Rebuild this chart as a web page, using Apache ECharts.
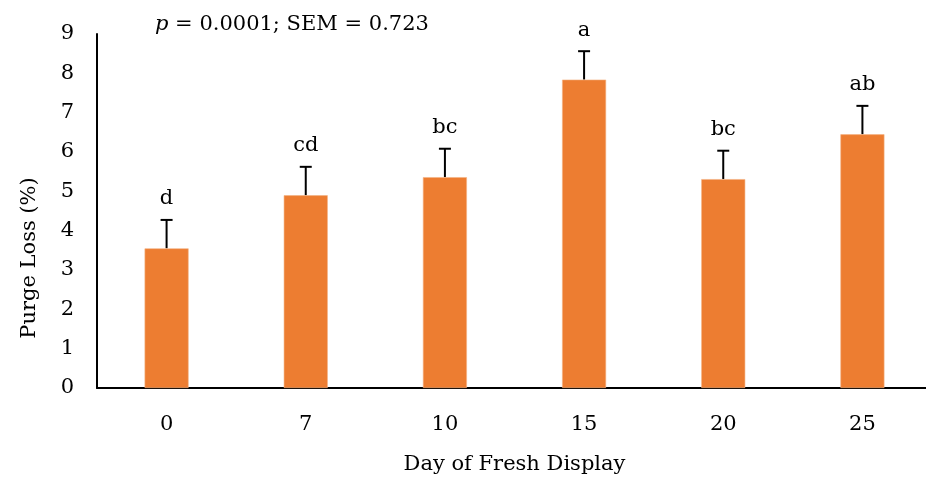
<!DOCTYPE html>
<html>
<head>
<meta charset="utf-8">
<script src="https://cdn.jsdelivr.net/npm/echarts@6/dist/echarts.min.js"></script>
<style>
  html, body { margin: 0; padding: 0; background: #fff; overflow: hidden; }
  /* the reference's x axis runs slightly past the right edge of the picture */
  #main { width: 932px; height: 480px; }
</style>
</head>
<body>
<div id="main"></div>
<script>
  // values
  const days = ['0', '7', '10', '15', '20', '25']
  const purgeLoss = [3.55, 4.90, 5.36, 7.84, 5.31, 6.45]
  const letters = ['d', 'cd', 'bc', 'a', 'bc', 'ab']
  const sem = 0.723
  const yTicks = [0, 1, 2, 3, 4, 5, 6, 7, 8, 9]

  const font = 'DejaVu Serif'
  const fs = 21
  const cssFont = fs + 'px "DejaVu Serif"'
  const chart = echarts.init(document.getElementById('main'))

  const errData = purgeLoss.map((v, i) => [i, v, v + sem, letters[i]])

  chart.setOption({
    animation: false,
    textStyle: { fontFamily: font },
    grid: { left: 97, right: 0, top: 34, bottom: 90 },
    xAxis: {
      type: 'category',
      data: days,
      name: 'Day of Fresh Display',
      nameLocation: 'middle',
      nameGap: 66,
      nameTextStyle: { fontFamily: font, fontSize: fs, color: '#000' },
      axisLine: { lineStyle: { color: '#000', width: 2 } },
      axisTick: { show: false },
      axisLabel: { fontFamily: font, fontSize: fs, color: '#000', margin: 26 }
    },
    yAxis: {
      type: 'value',
      min: yTicks[0],
      max: yTicks[yTicks.length - 1],
      interval: 1,
      axisLine: { show: true, lineStyle: { color: '#000', width: 2 } },
      axisTick: { show: false },
      splitLine: { show: false },
      axisLabel: { fontFamily: font, fontSize: fs, color: '#000', margin: 23 }
    },
    graphic: [
      {
        type: 'text',
        left: 155,
        top: 14,
        style: {
          text: '{i|p} = 0.0001; SEM = 0.723',
          font: cssFont,
          fill: '#000',
          rich: { i: { fontStyle: 'italic', fontFamily: font, fontSize: fs } }
        }
      },
      {
        type: 'text',
        x: 30,
        y: 258,
        rotation: Math.PI / 2,
        style: {
          text: 'Purge Loss (%)',
          font: cssFont,
          fill: '#000',
          align: 'center',
          verticalAlign: 'middle'
        }
      }
    ],
    series: [
      {
        type: 'bar',
        data: purgeLoss,
        barWidth: 44,
        itemStyle: { color: '#ED7D31', borderColor: '#F4B183', borderWidth: 0.6 }
      },
      {
        type: 'custom',
        data: errData,
        encode: { x: 0, y: [1, 2] },
        renderItem: function (params, api) {
          const x = api.value(0)
          const lo = api.coord([x, api.value(1)])
          const hi = api.coord([x, api.value(2)])
          const style = { stroke: '#000', lineWidth: 2 }
          return {
            type: 'group',
            children: [
              { type: 'line', shape: { x1: lo[0], y1: lo[1], x2: hi[0], y2: hi[1] }, style: style },
              { type: 'line', shape: { x1: hi[0] - 6, y1: hi[1], x2: hi[0] + 6, y2: hi[1] }, style: style },
              {
                type: 'text',
                x: hi[0],
                y: hi[1] - 21,
                style: {
                  text: api.value(3),
                  font: cssFont,
                  fill: '#000',
                  align: 'center',
                  verticalAlign: 'middle'
                }
              }
            ]
          }
        }
      }
    ]
  })
</script>
</body>
</html>
